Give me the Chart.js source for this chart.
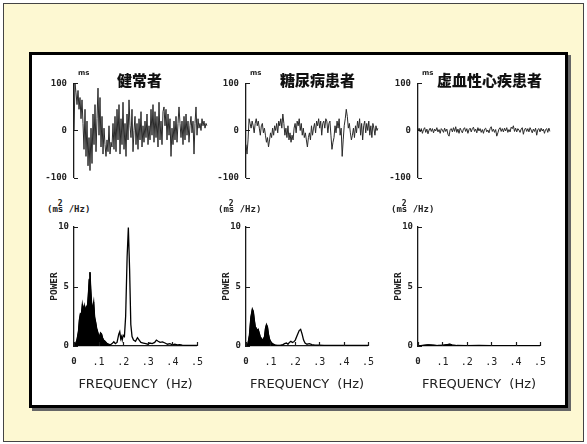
<!DOCTYPE html>
<html>
<head>
<meta charset="utf-8">
<script src="https://cdn.jsdelivr.net/npm/chart.js@4/dist/chart.umd.min.js"></script>
<style>
  html, body { margin: 0; padding: 0; background: #fff; }
  body { width: 587px; height: 444px; position: relative; overflow: hidden; }
  #sheet { position: absolute; left: 3px; top: 3px; width: 581px; height: 439px; box-sizing: border-box;
           border: 1px solid #444; background: #fdf8d2; }
  #panel { position: absolute; left: 29px; top: 52px; width: 539px; height: 356px; box-sizing: border-box;
           border: 3px solid #000; background: #fff; box-shadow: 3px 3px 0 #666; }
  canvas.cv { position: absolute; z-index: 1; }
  .title { position: absolute; z-index: 2; top: 72px; transform: translateX(-50%); white-space: nowrap;
           font-family: "Noto Sans CJK JP", sans-serif; font-weight: 900; font-size: 15px; line-height: 15px; color: #111; }
  .ms { position: absolute; z-index: 2; top: 70px; font-family: "DejaVu Sans", sans-serif; font-weight: bold;
        font-size: 7px; line-height: 7px; color: #222; }
  .unit { position: absolute; z-index: 2; top: 205px; white-space: pre; font-family: "DejaVu Sans Mono", monospace;
          font-weight: bold; font-size: 9px; line-height: 9px; color: #222; }
  .unit .s2 { display: inline-block; position: relative; }
  .unit .sq { position: absolute; left: 0; top: -5px; font-size: 8px; line-height: 8px; }
</style>
</head>
<body>
<div id="sheet"></div>
<div id="panel"></div>

<canvas class="cv" id="rr0"></canvas>
<canvas class="cv" id="rr1"></canvas>
<canvas class="cv" id="rr2"></canvas>
<canvas class="cv" id="ps0"></canvas>
<canvas class="cv" id="ps1"></canvas>
<canvas class="cv" id="ps2"></canvas>

<div class="title" style="left:139.5px">健常者</div>
<div class="title" style="left:317.5px">糖尿病患者</div>
<div class="title" style="left:489.5px">虚血性心疾患者</div>

<div class="ms" style="left:78px">ms</div>
<div class="ms" style="left:250px">ms</div>
<div class="ms" style="left:422px">ms</div>

<div class="unit" style="left:47px">(m<span class="s2"><span class="sq">2</span>s</span> /Hz)</div>
<div class="unit" style="left:218px">(m<span class="s2"><span class="sq">2</span>s</span> /Hz)</div>
<div class="unit" style="left:391px">(m<span class="s2"><span class="sq">2</span>s</span> /Hz)</div>

<script>
// ---- R-R interval fluctuation (ms), beat by beat ----
const healthyRR = [
  0, 100, 80, 55, 85, 45, 70, 25, 65, 15,
  -40, 45, -55, 20, -75, -15, -85, 5, -70, 35,
  -30, 55, -45, 25, 90, -10, 70, -35, 30, -50,
  5, -30, -55, -20, -45, 10, -50, -25, -35, 15,
  -40, 30, -45, 45, -20, 55, -50, 25, -30, 60,
  -40, 15, -55, 35, -20, 65, 10, -15, 45, -45,
  0, 30, -30, 15, -40, 25, -20, 40, -35, 10,
  -25, 20, -15, 35, -30, 10, -20, 45, -10, 55,
  -25, 40, -15, 30, -35, 60, -20, 20, -30, 40,
  50, 10, 45, -20, 35, -10, 25, -55, 5, -30,
  20, -20, 30, -25, 15, 50, 15, -15, 20, -30,
  30, -20, 35, -10, 20, -25, 10, 30, -5, 20,
  -50, 15, 50, -10, 25, 5, 15, 0, 25, 10,
  20, 5, 15, 10
];
const diabeticRR = [
  -30, -50, -20, 25, 15, 5, 20, 10, -5, 15,
  25, 10, 20, 5, -10, 10, 15, -5, 5, -10,
  -25, -15, -35, -20, -5, -15, 5, -10, 10, 0,
  15, -5, 20, 10, 25, 5, 35, 15, -10, 5,
  -15, 10, -20, -5, -25, -10, -20, 5, 15, -5,
  20, 10, 25, 0, 15, -10, 5, -15, -5, -20,
  -35, -15, -5, -20, 10, -10, 5, 15, -5, 20,
  10, 25, 5, 20, -10, 15, 20, 5, 25, 20,
  -5, 15, 20, -10, -40, -25, -15, 10, -5, 20,
  5, 25, -10, 5, -55, -20, 10, 25, 45, 30,
  5, 15, -5, -20, -10, 5, -15, 10, -5, 20,
  5, 25, -10, 15, -20, 10, 20, -5, 15, 0,
  20, -10, 10, -15, 15, 5, -10, 10, 0, 5
];
const ischemicRR = [
  0, 5, -3, 4, -6, 2, 6, -4, 3, -7, 1, 5, -2, 4, -5, 3, -1, 6, -3, 2,
  -6, 4, 1, -4, 5, -2, 3, -8, -12, 2, 4, -3, 6, -2, 8, -4, 3, -6, 5, 0,
  -5, 3, 6, -2, 4, -6, 2, 5, -3, 4, 7, -2, 3, -5, 6, -1, 4, -4, 2, -6,
  3, 5, -3, 1, -5, 4, 8, -2, 3, -4, 2, -12, -5, 3, 6, -2, 4, -3, 5, -1,
  6, -4, 2, -3, 7, 4, 10, -2, 5, -3, 4, 1, -4, 3, 6, -8, 2, 5, -2, 4,
  -3, 6, 1, -5, 3, -2, 5, -10, 2, 4, -3, 5, -1, 3, -6, 2, 4, -4, 5, -2
];

// ---- Power spectra: frequency (Hz) and power (ms^2/Hz) ----
const healthyFreq = [
  0, 0.005, 0.012, 0.018, 0.022, 0.026, 0.030, 0.034, 0.038, 0.042,
  0.046, 0.050, 0.054, 0.058, 0.062, 0.065, 0.068, 0.072, 0.076, 0.080,
  0.084, 0.088, 0.092, 0.096, 0.100, 0.104, 0.108, 0.112, 0.116, 0.120,
  0.126, 0.132, 0.140, 0.148, 0.155, 0.162, 0.168, 0.175, 0.182, 0.186,
  0.190, 0.193, 0.196, 0.200, 0.205, 0.210, 0.216, 0.221, 0.226, 0.231,
  0.236, 0.242, 0.250, 0.258, 0.265, 0.272, 0.282, 0.292, 0.300, 0.308,
  0.318, 0.328, 0.335, 0.342, 0.350, 0.360, 0.370, 0.380, 0.390, 0.400,
  0.410, 0.420, 0.430, 0.440, 0.460, 0.480, 0.500
];
const healthyPower = [
  0, 0.1, 0.5, 1.2, 2.2, 2.7, 2.6, 3.5, 3.0, 3.4,
  2.9, 3.3, 3.1, 4.2, 5.6, 6.2, 4.8, 3.4, 3.2, 3.7,
  2.4, 2.0, 1.5, 1.2, 0.9, 0.8, 1.1, 1.0, 0.7, 0.5,
  0.4, 0.25, 0.15, 0.1, 0.2, 0.35, 0.2, 0.3, 1.0, 1.2,
  0.6, 0.8, 0.5, 0.9, 0.8, 2.5, 7.5, 9.95, 6.5, 1.8,
  0.8, 0.5, 0.4, 0.7, 0.5, 0.3, 0.25, 0.2, 0.15, 0.25,
  0.2, 0.3, 0.5, 0.4, 0.3, 0.35, 0.25, 0.15, 0.2, 0.1,
  0.15, 0.1, 0.12, 0.08, 0.05, 0.06, 0.05
];
const diabeticFreq = [
  0, 0.008, 0.014, 0.020, 0.026, 0.030, 0.034, 0.038, 0.042, 0.046,
  0.050, 0.054, 0.058, 0.064, 0.070, 0.076, 0.080, 0.084, 0.088, 0.092,
  0.096, 0.100, 0.106, 0.112, 0.120, 0.130, 0.140, 0.150, 0.158, 0.166,
  0.172, 0.178, 0.184, 0.190, 0.196, 0.202, 0.210, 0.218, 0.224, 0.230,
  0.236, 0.242, 0.250, 0.260, 0.270, 0.280, 0.300, 0.320, 0.350, 0.400,
  0.450, 0.500
];
const diabeticPower = [
  0, 0.2, 0.9, 2.4, 3.1, 2.9, 2.2, 1.6, 1.5, 1.3,
  1.4, 1.1, 0.8, 0.6, 0.5, 0.8, 1.5, 1.8, 1.6, 1.0,
  0.6, 0.4, 0.25, 0.15, 0.08, 0.05, 0.05, 0.1, 0.2, 0.25,
  0.15, 0.3, 0.4, 0.3, 0.35, 0.5, 0.9, 1.3, 1.4, 1.0,
  0.5, 0.25, 0.15, 0.2, 0.12, 0.1, 0.08, 0.06, 0.05, 0.06,
  0.05, 0.04
];
const ischemicFreq = [0, 0.02, 0.04, 0.06, 0.08, 0.10, 0.12, 0.13, 0.14, 0.16, 0.20, 0.25, 0.30, 0.35, 0.40, 0.45, 0.50];
const ischemicPower = [0, 0.05, 0.1, 0.08, 0.04, 0.06, 0.12, 0.15, 0.1, 0.04, 0.03, 0.04, 0.03, 0.02, 0.03, 0.02, 0.02];

// ---- Axis ticks ----
const rrTicks = [-100, 0, 100];
const powerTicks = [0, 5, 10];
const freqTicks = [0, 0.1, 0.2, 0.3, 0.4, 0.5];
const freqTickLabels = ['0', '.1', '.2', '.3', '.4', '.5'];
const lfBandEnd = 0.15;   // low-frequency band drawn solid

// ---- Layout of the three columns (page pixels) ----
const columns = [
  { axis: 74, end: 207 },
  { axis: 246, end: 378 },
  { axis: 418, end: 550 }
];
const Y_AXIS_W = 45;
const INK = '#1a1a1a';

// short tick marks drawn inward from the axis lines
const inwardTicks = {
  id: 'inwardTicks',
  afterDraw(chart) {
    const { ctx, chartArea, scales } = chart;
    ctx.save();
    ctx.strokeStyle = INK;
    ctx.lineWidth = 1.2;
    ctx.beginPath();
    const ys = scales.y;
    ys.ticks.forEach(t => {
      const py = Math.round(ys.getPixelForValue(t.value)) + 0.5;
      ctx.moveTo(chartArea.left, py);
      ctx.lineTo(chartArea.left + 4, py);
    });
    const xs = scales.x;
    if (xs.options.display) {
      xs.ticks.forEach(t => {
        const px = Math.round(xs.getPixelForValue(t.value)) + 0.5;
        ctx.moveTo(px, chartArea.bottom);
        ctx.lineTo(px, chartArea.bottom - 4);
      });
    }
    ctx.stroke();
    ctx.restore();
  }
};

const monoBold = size => ({ family: 'DejaVu Sans Mono', weight: 'bold', size });

function placeCanvas(id, left, top, w, h) {
  const c = document.getElementById(id);
  c.width = w; c.height = h;
  c.style.left = left + 'px';
  c.style.top = top + 'px';
  c.style.width = w + 'px';
  c.style.height = h + 'px';
  return c;
}

function rrChart(id, col, values) {
  const w = Y_AXIS_W + (col.end - col.axis) + 2;
  const c = placeCanvas(id, col.axis - Y_AXIS_W, 71, w, 119);
  return new Chart(c, {
    type: 'line',
    data: {
      labels: values.map((_, i) => i),
      datasets: [{
        data: values,
        borderColor: '#2a2a2a',
        borderWidth: 1,
        pointRadius: 0,
        tension: 0,
        fill: false
      }]
    },
    options: {
      responsive: false,
      animation: false,
      events: [],
      devicePixelRatio: 1,
      layout: { padding: { top: 12, right: 2, bottom: 12, left: 0 } },
      plugins: { legend: { display: false }, tooltip: { enabled: false } },
      scales: {
        x: { type: 'category', display: false, offset: false },
        y: {
          min: rrTicks[0], max: rrTicks[rrTicks.length - 1],
          afterBuildTicks: s => { s.ticks = rrTicks.map(v => ({ value: v })); },
          ticks: { padding: 7, font: monoBold(9), color: '#222' },
          grid: { display: false, drawTicks: false },
          border: { display: true, color: INK, width: 1.3 },
          afterFit: s => { s.width = Y_AXIS_W; }
        }
      }
    },
    plugins: [inwardTicks]
  });
}

function spectrumChart(id, col, freq, power) {
  const w = Y_AXIS_W + (col.end - col.axis) + 6;
  const c = placeCanvas(id, col.axis - Y_AXIS_W, 215, w, 179);
  const pts = freq.map((f, i) => ({ x: f, y: power[i] }));
  const lfPts = pts.filter(p => p.x <= lfBandEnd);
  return new Chart(c, {
    type: 'line',
    data: {
      datasets: [
        { data: lfPts, borderColor: '#000', backgroundColor: '#000', borderWidth: 1,
          pointRadius: 0, tension: 0, fill: 'origin' },
        { data: pts, borderColor: '#000', borderWidth: 1.3, pointRadius: 0, tension: 0, fill: false }
      ]
    },
    options: {
      responsive: false,
      animation: false,
      events: [],
      devicePixelRatio: 1,
      layout: { padding: { top: 12, right: 6, bottom: 0, left: 0 } },
      plugins: { legend: { display: false }, tooltip: { enabled: false } },
      scales: {
        x: {
          type: 'linear',
          min: freqTicks[0], max: freqTicks[freqTicks.length - 1],
          afterBuildTicks: s => { s.ticks = freqTicks.map(v => ({ value: v })); },
          ticks: {
            autoSkip: false, maxRotation: 0, padding: 10, color: '#222',
            callback: (v, i) => freqTickLabels[i],
            font: ctx => ctx.index === 0 ? monoBold(9) : { family: 'DejaVu Sans Mono', size: 10 }
          },
          grid: { display: false, drawTicks: false },
          border: { display: true, color: INK, width: 1.3 },
          title: {
            display: true, text: 'FREQUENCY  (Hz)', color: '#222',
            font: { family: 'DejaVu Sans', size: 13 },
            padding: { top: 0, bottom: 2 }
          },
          afterFit: s => { s.height = 48; }
        },
        y: {
          min: powerTicks[0], max: powerTicks[powerTicks.length - 1],
          afterBuildTicks: s => { s.ticks = powerTicks.map(v => ({ value: v })); },
          ticks: { padding: 5, font: monoBold(9), color: '#222' },
          grid: { display: false, drawTicks: false },
          border: { display: true, color: INK, width: 1.3 },
          title: {
            display: true, text: 'POWER', color: '#222',
            font: { family: 'DejaVu Sans Mono', weight: 'bold', size: 9.5, lineHeight: 1.2 },
            padding: { top: 20, bottom: 0 }
          },
          afterFit: s => { s.width = Y_AXIS_W; }
        }
      }
    },
    plugins: [inwardTicks]
  });
}

rrChart('rr0', columns[0], healthyRR);
rrChart('rr1', columns[1], diabeticRR);
rrChart('rr2', columns[2], ischemicRR);
spectrumChart('ps0', columns[0], healthyFreq, healthyPower);
spectrumChart('ps1', columns[1], diabeticFreq, diabeticPower);
spectrumChart('ps2', columns[2], ischemicFreq, ischemicPower);
</script>
</body>
</html>
